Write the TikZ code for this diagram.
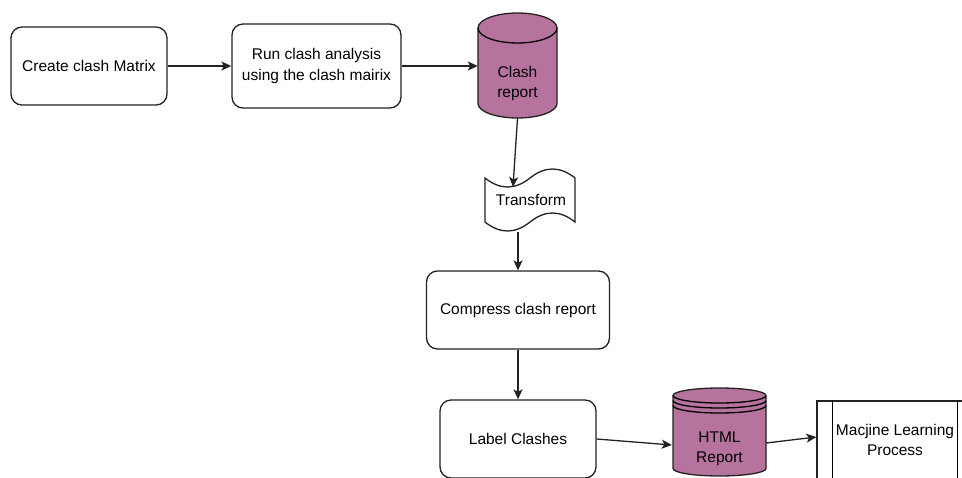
\documentclass[tikz,border=0pt]{standalone}
\usepackage{fontspec}
\setmainfont{Liberation Sans}
\usetikzlibrary{arrows.meta,calc}
\definecolor{mauve}{HTML}{B5739D}
\definecolor{stroke}{HTML}{222222}
\begin{document}
\begin{tikzpicture}[x=1pt,y=-1pt,
  font=\fontsize{15.5}{20.5}\selectfont,
  box/.style={draw=stroke, line width=1.3pt, rounded corners=11pt, align=center, inner sep=0pt, fill=white},
  ghost/.style={inner sep=0pt, align=center},
  arr/.style={draw=stroke, line width=1.3pt, -{Stealth[length=10pt,width=9pt,inset=2.5pt]}},
  cyl/.style={fill=mauve, draw=stroke, line width=1.3pt},
  proc/.style={draw=stroke, line width=1.3pt, inner sep=0pt, align=center, fill=white}]
\useasboundingbox (0,0) rectangle (962,477);
\clip (0,0) rectangle (962,477);

% boxes
\node[box, minimum width=156pt, minimum height=78pt] (create) at (89,66) {Create clash Matrix};
\node[box, minimum width=169pt, minimum height=84pt] (run) at (316.5,66) {Run clash analysis\\using the clash mairix};

% clash report cylinder
\node[ghost, minimum width=79pt, minimum height=105pt] (clash) at (517.5,65.5) {};
\path[cyl] (478,28) -- (478,103.5)
  arc[start angle=180, end angle=360, x radius=39.5pt, y radius=14.5pt]
  -- (557,28)
  arc[start angle=0, end angle=180, x radius=39.5pt, y radius=15pt] -- cycle;
\draw[stroke, line width=1.3pt] (478,28)
  arc[start angle=180, end angle=360, x radius=39.5pt, y radius=15pt];
\node[ghost] (clashtxt) at (517.5,83.5) {Clash\\report};

% transform tape
\path[draw=stroke, line width=1.3pt, fill=white]
  (485,178) .. controls (500,190) and (515,190) .. (530,178)
  .. controls (545,166) and (560,166) .. (575,178)
  -- (575,222)
  .. controls (560,210) and (545,210) .. (530,222)
  .. controls (515,234) and (500,234) .. (485,222) -- cycle;
\node[ghost, minimum width=90pt, minimum height=64pt] (tape) at (530,200) {};
\node[ghost] (tapetxt) at (531,200) {Transform};
\coordinate (tapein) at (513,187);

\node[box, minimum width=183pt, minimum height=78pt] (compress) at (518,310) {Compress clash report};
\node[box, minimum width=156pt, minimum height=78pt] (label) at (518,439) {Label Clashes};

% HTML datastore
\node[ghost, minimum width=93pt, minimum height=88pt] (html) at (719.5,432) {};
\path[cyl] (673,395.5) -- (673,468.5)
  arc[start angle=180, end angle=360, x radius=46.5pt, y radius=7.5pt]
  -- (766,395.5)
  arc[start angle=0, end angle=180, x radius=46.5pt, y radius=7.5pt] -- cycle;
\draw[stroke, line width=1.3pt] (673,395.5)
  arc[start angle=180, end angle=360, x radius=46.5pt, y radius=7.5pt];
\draw[stroke, line width=1.3pt] (673,400.5)
  arc[start angle=180, end angle=360, x radius=46.5pt, y radius=7.5pt];
\draw[stroke, line width=1.3pt] (673,405.5)
  arc[start angle=180, end angle=360, x radius=46.5pt, y radius=7.5pt];
\node[ghost] (htmltxt) at (719.5,449) {HTML\\Report};

% process
\node[proc, minimum width=156pt, minimum height=78pt] (ml) at (895,440) {Macjine Learning\\Process};
\draw[stroke, line width=1.3pt] ($(ml.north west)+(16,0)$) -- ($(ml.south west)+(16,0)$);
\draw[stroke, line width=1.3pt] ($(ml.north east)+(-16,0)$) -- ($(ml.south east)+(-16,0)$);

% connectors
\draw[arr] (create) -- (run);
\draw[arr] (run.east) -- (clash.west |- run.east);
\draw[arr] (clash.south) -- (tapein);
\draw[arr] (tape.south -| compress.north) -- (compress.north);
\draw[arr] (compress) -- (label);
\draw[arr] (label.east) -- ($(html.west)+(-1,13)$);
\draw[arr] ($(html.east)+(0,11)$) -- ($(ml.west)+(0,-3)$);
\end{tikzpicture}
\end{document}
